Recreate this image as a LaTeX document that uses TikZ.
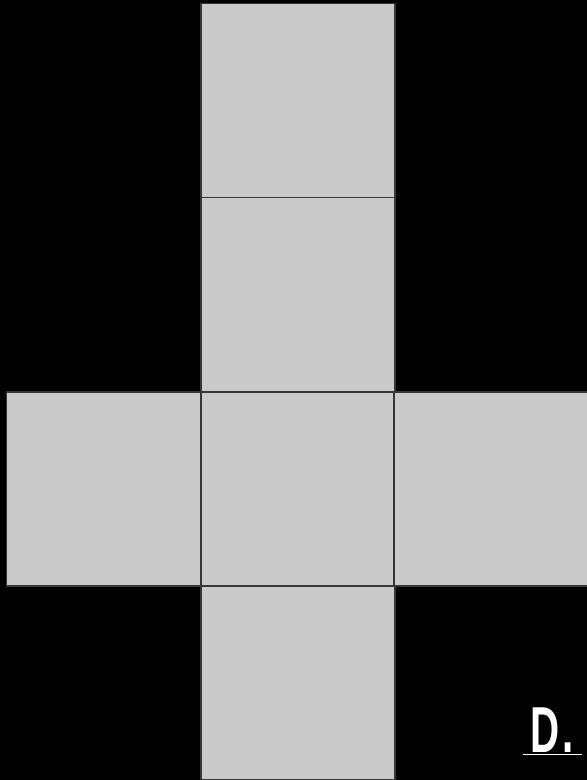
\documentclass[tikz,border=0pt]{standalone}
\usepackage{fontspec}
\usepackage{graphicx}
\newfontfamily\labelfont{Liberation Sans}
\definecolor{facegray}{RGB}{202,202,202}
\definecolor{edgegray}{RGB}{55,55,55}

\begin{document}
\begin{tikzpicture}
[
	face/.style={rectangle,draw=edgegray,fill=facegray,line width=0.035cm,
	  inner sep=0pt,outer sep=0pt,minimum size=3.88cm},
	x=0.02cm,
	y=0.02cm
]

	% background
	\fill[black] (0,0) rectangle (587,780);
	\useasboundingbox (0,0) rectangle (587,780);

	% column of faces
	\node[face] (top)    at (298,679.5) {};
	\node[face] (upper)  at (298,485.5) {};
	\node[face] (centre) at (298,291) {};
	\node[face] (bottom) at (298,97) {};

	% side faces
	\node[face] (left)  at (103.5,291) {};
	\node[face] (right) at (491,291) {};

	% label
	\node[anchor=base west,inner sep=0pt,text=white,
	  font=\labelfont\bfseries\fontsize{37}{40}\selectfont] (answer) at (523,28)
	  {\scalebox{0.62}[1]{\underline{\,D\kern3pt.\kern8pt}}};

\end{tikzpicture}
\end{document}
